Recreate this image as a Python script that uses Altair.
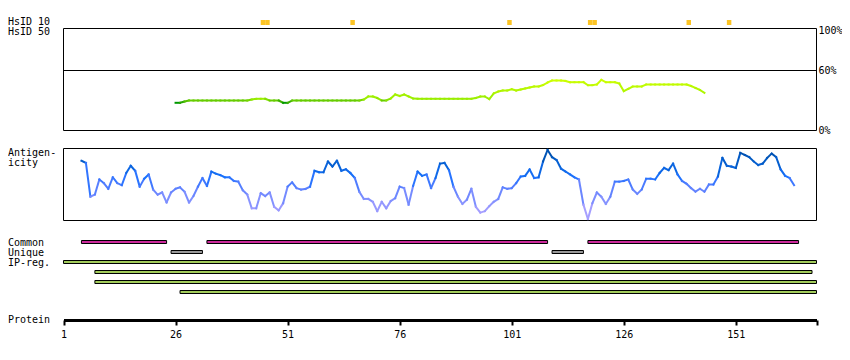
import altair as alt
import pandas as pd
import numpy as np

MONO = "DejaVu Sans Mono"

# ---------------- data ----------------
protein_length = 169
tick_values = [1, 26, 51, 76, 101, 126, 151, 169]

# HsID 10 hits (residues)
hsid10_hits = [45, 46, 65, 100, 118, 119, 140, 149]

# HsID 50 identity (%) per residue, starting at residue 26
hsid50_start = 26
hsid50_pct = [
    27.7, 27.7, 29,
    30, 30, 30, 30, 30, 30, 30, 30, 30, 30, 30, 30, 30, 30,
    31, 31.7, 31.7, 31.7, 30, 30, 30, 27.7, 27.7,
    30, 30, 30, 30, 30, 30, 30, 30, 30, 30, 30, 30, 30, 30, 30, 30,
    31, 34, 34, 32.5, 30, 30, 32, 36, 34.5, 36, 34, 32,
    31.7, 31.7, 31.7, 31.7, 31.7, 31.7, 31.7, 31.7, 31.7, 31.7, 31.7, 31.7, 31.7,
    32.5, 34, 34, 31.3, 37, 39, 40, 40,
    41.3, 40, 41, 42, 43, 44, 44, 45.5, 48, 50,
    50, 50, 49.5, 48.3, 48.3, 48.3, 48.3, 45.3, 45.3, 46,
    50.7, 48.3, 48.3, 48.3, 47, 39.3, 41.7, 44, 44, 44,
    46, 46, 46, 46, 46, 46, 46, 46, 46, 46,
    44.5, 42.5, 40.5, 37.7,
]

# Antigenicity (relative score 0..1) per residue, starting at residue 5
antigen_start = 5
antigen = [
    0.83, 0.80, 0.33, 0.36, 0.57, 0.52, 0.44, 0.60, 0.52, 0.49,
    0.66, 0.76, 0.69, 0.47, 0.58, 0.64, 0.43, 0.36, 0.39, 0.25,
    0.39, 0.44, 0.46, 0.40, 0.25, 0.34, 0.47, 0.59, 0.48, 0.68,
    0.65, 0.63, 0.60, 0.60, 0.55, 0.54, 0.42, 0.36, 0.17, 0.17,
    0.38, 0.34, 0.39, 0.19, 0.14, 0.24, 0.47, 0.53, 0.45, 0.43,
    0.44, 0.47, 0.69, 0.67, 0.67, 0.82, 0.75, 0.83, 0.69, 0.71,
    0.66, 0.59, 0.40, 0.30, 0.30, 0.26, 0.13, 0.26, 0.17, 0.27,
    0.31, 0.47, 0.45, 0.22, 0.48, 0.68, 0.62, 0.64, 0.45, 0.59,
    0.79, 0.80, 0.70, 0.47, 0.33, 0.23, 0.29, 0.44, 0.19, 0.11,
    0.13, 0.20, 0.26, 0.30, 0.46, 0.44, 0.45, 0.52, 0.61, 0.62,
    0.71, 0.59, 0.60, 0.82, 0.98, 0.88, 0.84, 0.72, 0.68, 0.64,
    0.60, 0.57, 0.22, 0.02, 0.24, 0.39, 0.33, 0.23, 0.33, 0.54,
    0.54, 0.55, 0.57, 0.43, 0.37, 0.43, 0.58, 0.58, 0.57, 0.66,
    0.73, 0.70, 0.79, 0.64, 0.55, 0.51, 0.45, 0.40, 0.44, 0.40,
    0.50, 0.50, 0.61, 0.87, 0.76, 0.75, 0.73, 0.94, 0.91, 0.88,
    0.82, 0.77, 0.79, 0.87, 0.93, 0.88, 0.71, 0.62, 0.59, 0.49,
]

# Feature tracks: (kind, row, start, end)
track_kind = ["Common", "Common", "Common", "Unique", "Unique",
              "IP-reg.", "IP-reg.", "IP-reg.", "IP-reg."]
track_row = [0, 0, 0, 1, 1, 2, 3, 4, 5]
track_start = [5, 33, 118, 25, 110, 1, 8, 8, 27]
track_end = [24, 109, 165, 32, 117, 169, 168, 169, 169]

# ---------------- tables ----------------
def segments(start, values):
    r = np.arange(start, start + len(values))
    v = np.array(values, dtype=float)
    return pd.DataFrame({
        "r": r[:-1], "r2": r[1:], "v": v[:-1], "v2": v[1:],
        "c": (v[:-1] + v[1:]) / 2,
    })

hs_seg = segments(hsid50_start, hsid50_pct)
ag_seg = segments(antigen_start, antigen)
hits_df = pd.DataFrame({"r": hsid10_hits})
tracks_df = pd.DataFrame({"kind": track_kind, "row": track_row,
                          "start": track_start, "end": track_end})

# ---------------- scales ----------------
xscale = alt.Scale(domain=[1, protein_length], range=[55.5, 808.5], nice=False, zero=False)
xaxis = alt.Axis(values=tick_values, labelExpr="datum.value == 169 ? '' : datum.label",
                 title=None, grid=False, domainWidth=3, domainColor="black",
                 tickColor="black", tickWidth=2, tickSize=5, labelFont=MONO,
                 labelFontSize=10, labelColor="black", labelPadding=4,
                 labelFlush=False, labelOverlap=False)
pct_scale = alt.Scale(domain=[0, 102], range=[122.5, 20.5], nice=False, zero=False)
ag_scale = alt.Scale(domain=[0, 1], range=[212.5, 140.5], nice=False, zero=False)
row_scale = alt.Scale(domain=[0, 5], range=[234, 284], nice=False, zero=False)

def X(field):
    return alt.X(field, type="quantitative", scale=xscale, axis=xaxis)

# HsID 10 marks
hsid10 = alt.Chart(hits_df).transform_calculate(r2="datum.r + 1").mark_rect(
    color="#fcc424").encode(
    x=X("r"), x2="r2:Q", y=alt.value(12), y2=alt.value(17))

# HsID 50 box
box_df = pd.DataFrame({"x": [1], "x2": [protein_length], "y": [0], "y2": [102]})
hs_box = alt.Chart(box_df).mark_rect(fill="transparent", stroke="black", strokeWidth=1).encode(
    x=X("x"), x2="x2:Q",
    y=alt.Y("y:Q", scale=pct_scale,
            axis=alt.Axis(orient="right", values=[0, 60, 100], labelExpr="datum.value + '%'",
                          ticks=False, domain=False, grid=False, title=None,
                          labelFont=MONO, labelFontSize=10, labelColor="black",
                          labelPadding=2)),
    y2="y2:Q")
rule60_df = pd.DataFrame({"x": [1], "x2": [protein_length], "y": [60]})
hs_rule = alt.Chart(rule60_df).mark_rule(color="black", strokeWidth=1).encode(
    x=X("x"), x2="x2:Q", y=alt.Y("y:Q", scale=pct_scale, axis=None))
hs_line = alt.Chart(hs_seg).mark_rule(strokeWidth=2, strokeCap="square").encode(
    x=X("r"), x2="r2:Q",
    y=alt.Y("v:Q", scale=pct_scale, axis=None), y2="v2:Q",
    color=alt.Color("c:Q", scale=alt.Scale(domain=[30, 31.5, 50],
                                           range=["#66cc00", "#99ee00", "#ccff00"]),
                    legend=None))

# Antigenicity
ag_box_df = pd.DataFrame({"x": [1], "x2": [protein_length], "y": [0], "y2": [1]})
ag_box = alt.Chart(ag_box_df).mark_rect(fill="transparent", stroke="black", strokeWidth=1).encode(
    x=X("x"), x2="x2:Q", y=alt.Y("y:Q", scale=ag_scale, axis=None), y2="y2:Q")
ag_line = alt.Chart(ag_seg).mark_rule(strokeWidth=2, strokeCap="square").encode(
    x=X("r"), x2="r2:Q",
    y=alt.Y("v:Q", scale=ag_scale, axis=None), y2="v2:Q",
    color=alt.Color("c:Q", scale=alt.Scale(domain=[0, 0.3, 0.6, 1.0],
                                           range=["#bbaaff", "#8090ff", "#1a72ff", "#004a9f"]),
                    legend=None))

# Tracks
tracks = alt.Chart(tracks_df).transform_calculate(
    lo="datum.row - 0.15", hi="datum.row + 0.15").mark_rect(
    stroke="black", strokeWidth=1).encode(
    x=X("start"), x2="end:Q",
    y=alt.Y("lo:Q", scale=row_scale, axis=None), y2="hi:Q",
    color=alt.Color("kind:N", scale=alt.Scale(domain=["Common", "Unique", "IP-reg."],
                                              range=["#cc2a9c", "#999999", "#a3cc5c"]),
                    legend=None))

# Left labels
def label(text, y):
    return alt.Chart(pd.DataFrame({"t": [text]})).mark_text(
        align="left", baseline="middle", font=MONO, fontSize=10, color="black").encode(
        x=alt.value(0), y=alt.value(y), text="t:N")

labels = [label("HsID 10", 14.3), label("HsID 50", 24.3),
          label("Antigen-", 144.7), label("icity", 155.3),
          label("Common", 234.7), label("Unique", 244.7), label("IP-reg.", 254.7),
          label("Protein", 312)]

chart = alt.layer(hs_box, hs_rule, hs_line, hsid10, ag_box, ag_line, tracks, *labels).resolve_scale(
    y="independent", color="independent").properties(
    width=808, height=312,
    padding={"left": 0, "top": 0, "right": 26, "bottom": 30},
    autosize=alt.AutoSizeParams(type="none"),
    background="white",
).configure_view(strokeWidth=0)

chart.save("out.html", embed_options={"renderer": "svg", "actions": False})
